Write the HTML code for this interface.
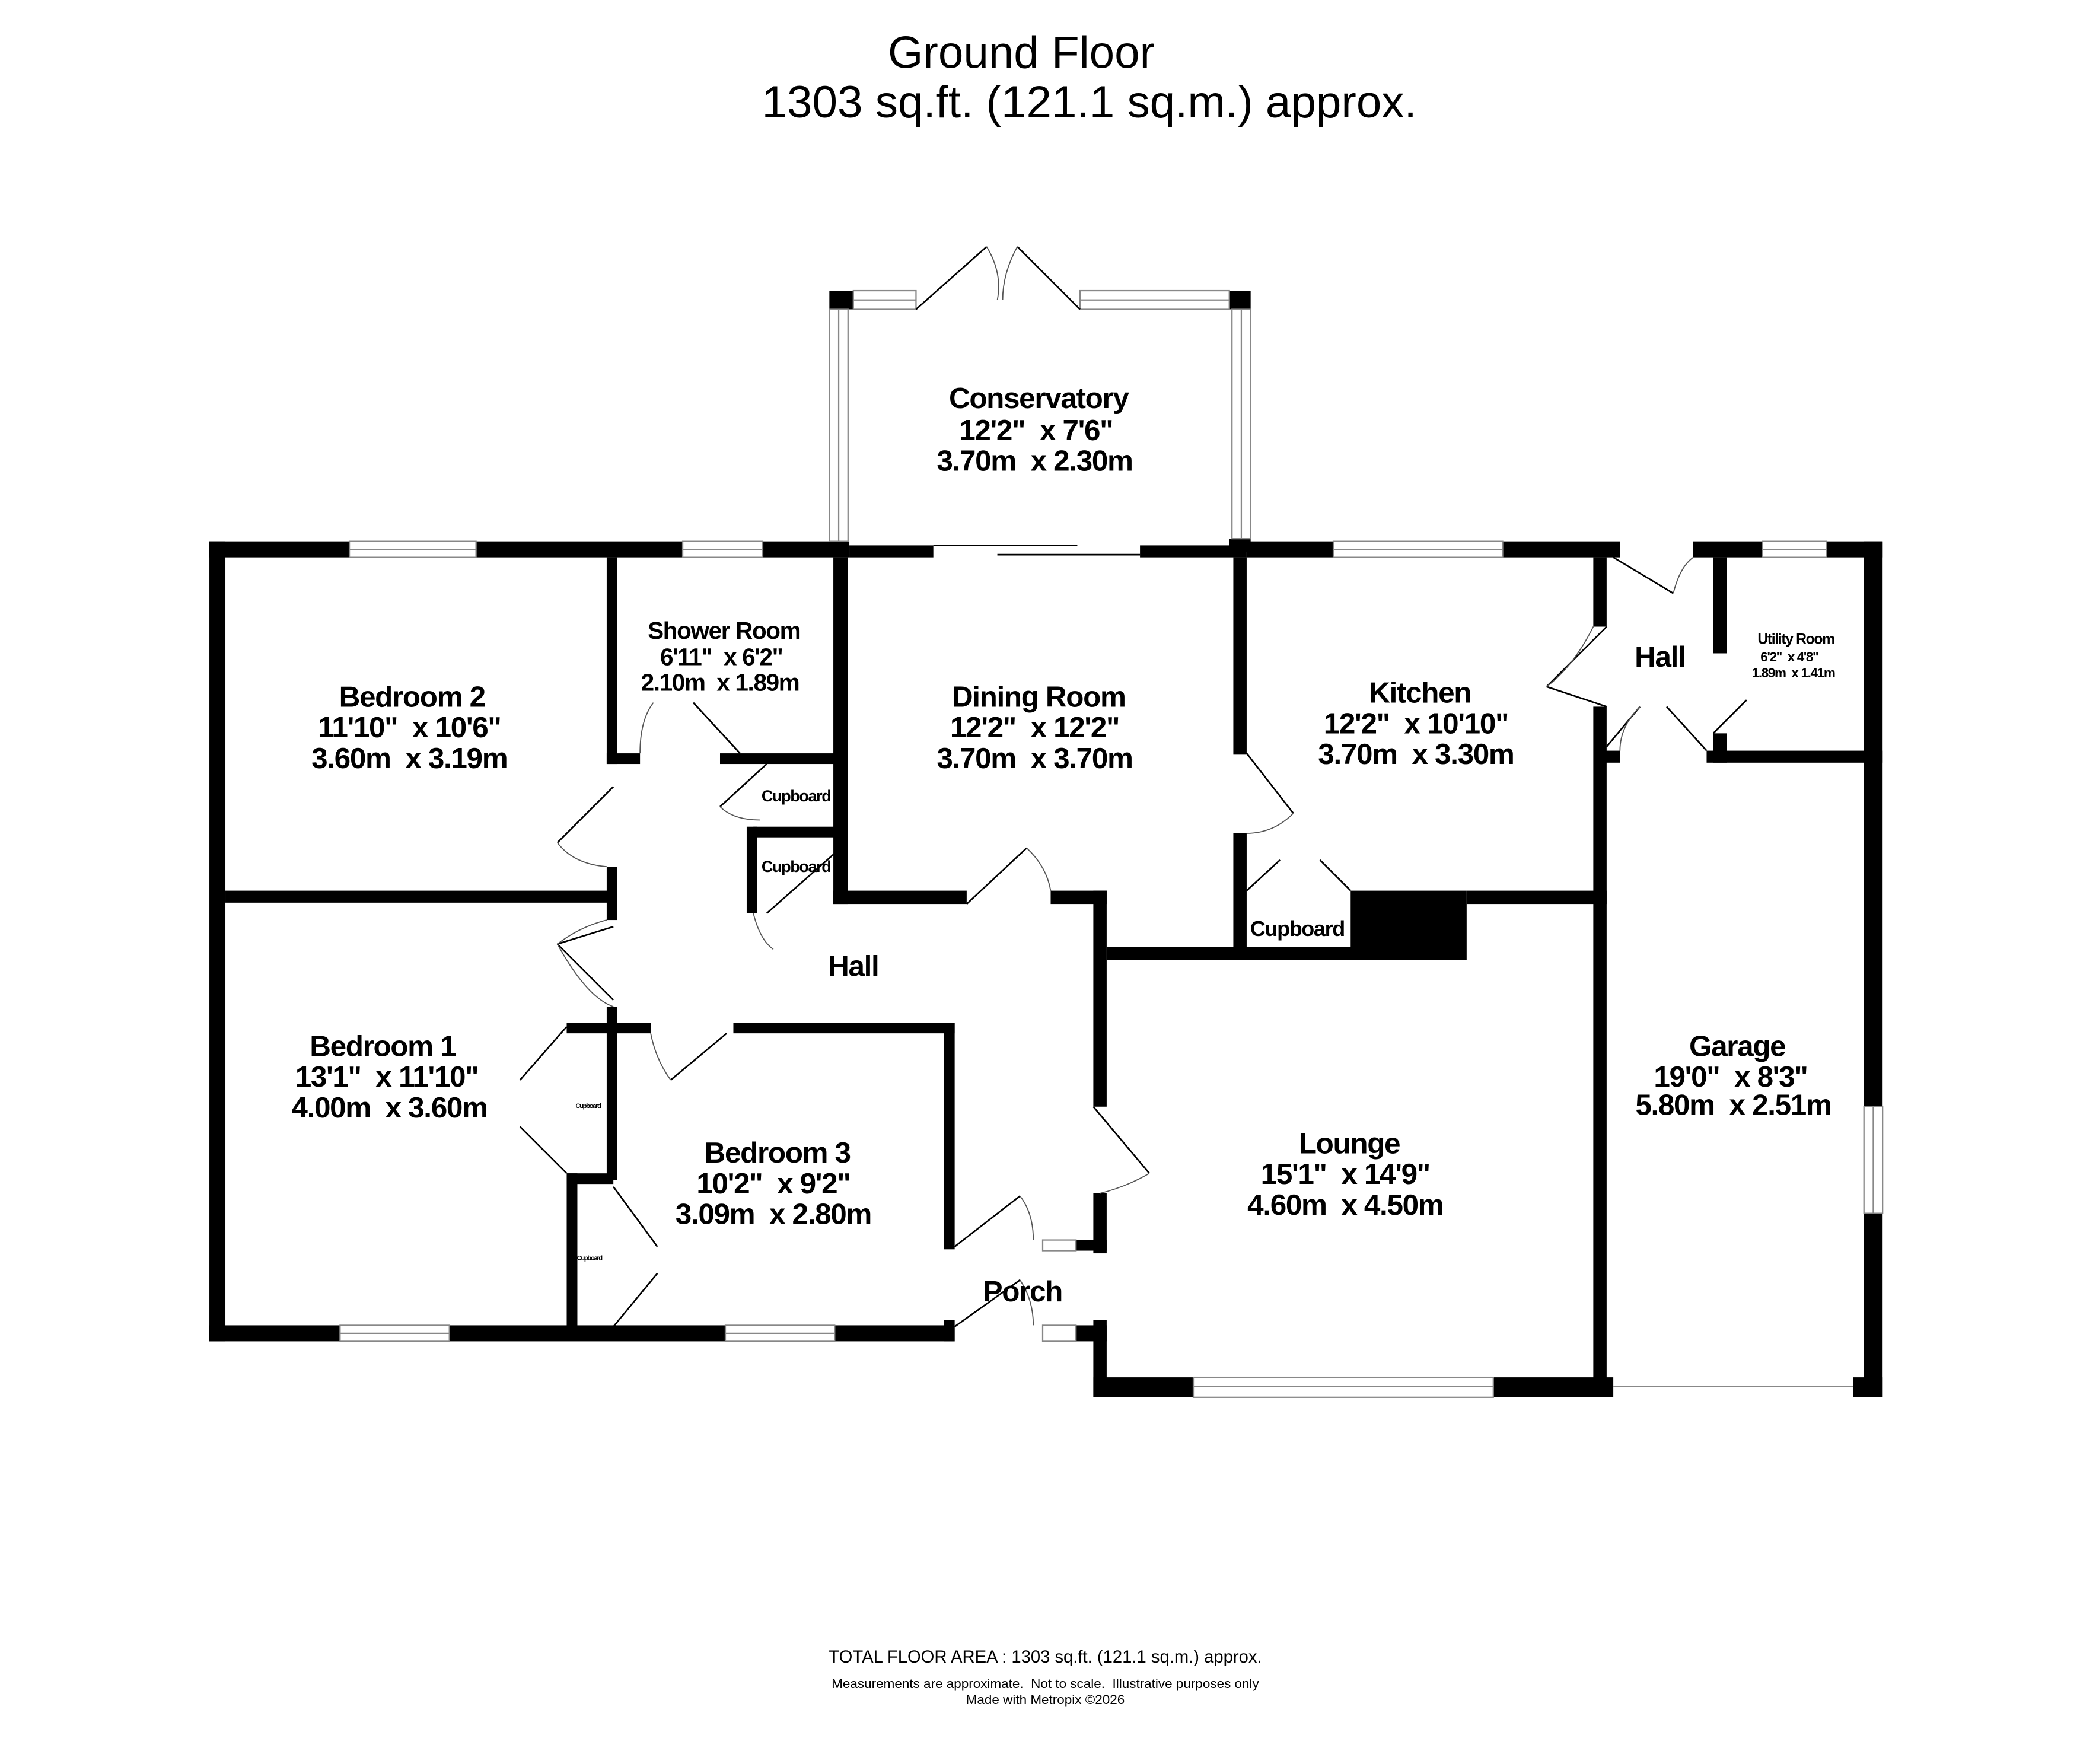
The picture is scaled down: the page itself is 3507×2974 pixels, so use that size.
<!DOCTYPE html>
<html><head><meta charset="utf-8"><style>
html,body{margin:0;padding:0;background:#fff;}
svg{display:block;}
text{font-family:"Liberation Sans",sans-serif;font-weight:bold;fill:#000;white-space:pre;letter-spacing:-0.6px;}
.t{font-family:"Liberation Sans",sans-serif;font-weight:normal;letter-spacing:0;}
.d{fill:none;stroke:#000;stroke-width:1.2;}
.a{fill:none;stroke:#555;stroke-width:0.8;}
.w{fill:#fff;stroke:#888;stroke-width:1;}
</style></head><body>
<svg width="3507" height="2974" viewBox="0 0 1560 1323" xmlns="http://www.w3.org/2000/svg" xml:space="preserve">
<rect width="1560" height="1323" fill="#fff"/>
<text class="t" x="766" y="51" font-size="34" text-anchor="middle">Ground Floor</text>
<text class="t" x="817" y="88" font-size="34" text-anchor="middle">1303 sq.ft. (121.1 sq.m.) approx.</text>

<g fill="#000">
<rect x="157" y="406" width="105" height="12"/>
<rect x="357" y="406" width="155" height="12"/>
<rect x="572" y="406" width="65" height="12"/>
<rect x="637" y="409" width="63" height="9"/>
<rect x="855" y="409" width="80" height="9"/>
<rect x="935" y="406" width="65" height="12"/>
<rect x="1127" y="406" width="88" height="12"/>
<rect x="1270" y="406" width="52" height="12"/>
<rect x="1370" y="406" width="42" height="12"/>
<rect x="157" y="406" width="12" height="600"/>
<rect x="157" y="994" width="98" height="12"/>
<rect x="337" y="994" width="207" height="12"/>
<rect x="626" y="994" width="90" height="12"/>
<rect x="169" y="668" width="291" height="9"/>
<rect x="455" y="418" width="8" height="155"/>
<rect x="455" y="565" width="25" height="8"/>
<rect x="540" y="565" width="95" height="8"/>
<rect x="455" y="650" width="8" height="40"/>
<rect x="455" y="755" width="8" height="130"/>
<rect x="425" y="767" width="63" height="8"/>
<rect x="550" y="767" width="166" height="8"/>
<rect x="708" y="767" width="8" height="170"/>
<rect x="708" y="990" width="8" height="16"/>
<rect x="425" y="880" width="35" height="8"/>
<rect x="425" y="880" width="8" height="120"/>
<rect x="625" y="418" width="11" height="260"/>
<rect x="565" y="620" width="65" height="8"/>
<rect x="560" y="620" width="8" height="65"/>
<rect x="625" y="668" width="100" height="10"/>
<rect x="788" y="668" width="42" height="10"/>
<rect x="820" y="668" width="10" height="162"/>
<rect x="820" y="895" width="10" height="45"/>
<rect x="820" y="990" width="10" height="58"/>
<rect x="782" y="930" width="48" height="8"/>
<rect x="782" y="994" width="48" height="12"/>
<rect x="830" y="710" width="185" height="10"/>
<rect x="925" y="418" width="10" height="148"/>
<rect x="925" y="625" width="10" height="95"/>
<rect x="1013" y="668" width="87" height="52"/>
<rect x="1100" y="668" width="105" height="10"/>
<rect x="1195" y="418" width="10" height="52"/>
<rect x="1195" y="530" width="10" height="518"/>
<rect x="1200" y="563" width="15" height="9"/>
<rect x="1285" y="418" width="10" height="72"/>
<rect x="1285" y="550" width="10" height="22"/>
<rect x="1280" y="563" width="132" height="9"/>
<rect x="1398" y="406" width="14" height="424"/>
<rect x="1398" y="910" width="14" height="138"/>
<rect x="820" y="1033" width="75" height="15"/>
<rect x="1120" y="1033" width="90" height="15"/>
<rect x="1390" y="1033" width="22" height="15"/>
<rect x="622" y="218" width="18" height="14"/>
<rect x="922" y="218" width="16" height="14"/>
<rect x="622" y="406" width="14" height="8"/>
<rect x="922" y="404" width="16" height="10"/>
</g>

<g class="w">
<rect x="262" y="406" width="95" height="12"/>
<rect x="512" y="406" width="60" height="12"/>
<rect x="1000" y="406" width="127" height="12"/>
<rect x="1322" y="406" width="48" height="12"/>
<rect x="255" y="994" width="82" height="12"/>
<rect x="544" y="994" width="82" height="12"/>
<rect x="895" y="1033" width="225" height="15"/>
<rect x="1398" y="830" width="14" height="80"/>
<rect x="782" y="930" width="25" height="8"/>
<rect x="782" y="994" width="25" height="12"/>
<rect x="640" y="218" width="47" height="14"/>
<rect x="810" y="218" width="112" height="14"/>
<rect x="622" y="232" width="14" height="174"/>
<rect x="924" y="232" width="14" height="172"/>
</g>
<g stroke="#888" stroke-width="1">
<line x1="262" y1="412" x2="357" y2="412"/><line x1="512" y1="412" x2="572" y2="412"/>
<line x1="1000" y1="412" x2="1127" y2="412"/><line x1="1322" y1="412" x2="1370" y2="412"/>
<line x1="255" y1="1000" x2="337" y2="1000"/><line x1="544" y1="1000" x2="626" y2="1000"/>
<line x1="895" y1="1040" x2="1120" y2="1040"/><line x1="1405" y1="830" x2="1405" y2="910"/>
<line x1="640" y1="225" x2="687" y2="225"/><line x1="810" y1="225" x2="922" y2="225"/>
<line x1="629" y1="232" x2="629" y2="406"/><line x1="931" y1="232" x2="931" y2="404"/>
<line x1="1210" y1="1040" x2="1390" y2="1040"/>
</g>
<g class="d"><line x1="700" y1="409" x2="808" y2="409"/><line x1="748" y1="416" x2="855" y2="416"/></g>
<g class="d">
<path d="M687 232 L740 185"/><path d="M810 232 L763 185"/>
<path d="M520 527 L555 565"/><path d="M575 573 L540 605"/><path d="M575 685 L626 640"/>
<path d="M460 590 L418 632"/><path d="M460 695 L418 708"/><path d="M418 708 L460 750"/>
<path d="M545 775 L503 810"/><path d="M725 678 L770 636"/>
<path d="M820 830 L862 880"/><path d="M716 935 L765 897"/><path d="M716 995 L765 960"/>
<path d="M935 565 L970 610"/><path d="M1205 470 L1160 515"/><path d="M1205 530 L1160 515"/>
<path d="M1210 418 L1255 445"/><path d="M1205 560 L1230 530"/><path d="M1280 563 L1250 530"/>
<path d="M1285 550 L1310 525"/>
<path d="M425 770 L390 810"/><path d="M425 880 L390 845"/>
<path d="M460 890 L493 935"/><path d="M460 995 L493 955"/>
<path d="M935 668 L960 645"/><path d="M1013 668 L990 645"/>
</g>
<g class="a">
<path d="M740 185 Q752 205 748 225"/><path d="M763 185 Q752 205 752 225"/>
<path d="M480 565 Q480 540 490 527"/><path d="M540 605 Q550 615 570 615"/>
<path d="M565 685 Q570 705 580 712"/><path d="M418 632 Q430 648 455 650"/>
<path d="M418 708 Q435 695 455 690"/><path d="M460 755 Q440 748 418 708"/>
<path d="M488 775 Q492 795 503 810"/><path d="M770 636 Q785 650 788 668"/>
<path d="M862 880 Q845 890 825 895"/><path d="M765 897 Q775 910 775 930"/><path d="M765 960 Q775 975 775 994"/>
<path d="M970 610 Q955 625 935 625"/><path d="M1160 515 Q1180 500 1195 470"/>
<path d="M1255 445 Q1260 425 1270 418"/><path d="M1230 530 Q1215 545 1215 563"/>
</g>

<g text-anchor="middle">
<text x="779" y="306" font-size="22">Conservatory</text>
<text x="777" y="330" font-size="22">12'2"  x 7'6"</text>
<text x="776" y="353" font-size="22">3.70m  x 2.30m</text>
<text x="309" y="530" font-size="22">Bedroom 2</text>
<text x="307" y="553" font-size="22">11'10"  x 10'6"</text>
<text x="307" y="576" font-size="22">3.60m  x 3.19m</text>
<text x="543" y="479" font-size="18">Shower Room</text>
<text x="541" y="499" font-size="18">6'11"  x 6'2"</text>
<text x="540" y="518" font-size="18">2.10m  x 1.89m</text>
<text x="779" y="530" font-size="22">Dining Room</text>
<text x="776" y="553" font-size="22">12'2"  x 12'2"</text>
<text x="776" y="576" font-size="22">3.70m  x 3.70m</text>
<text x="1065" y="527" font-size="22">Kitchen</text>
<text x="1062" y="550" font-size="22">12'2"  x 10'10"</text>
<text x="1062" y="573" font-size="22">3.70m  x 3.30m</text>
<text x="1245" y="500" font-size="22">Hall</text>
<text x="1347" y="483" font-size="11">Utility Room</text>
<text x="1342" y="496" font-size="10">6'2"  x 4'8"</text>
<text x="1345" y="508" font-size="10">1.89m  x 1.41m</text>
<text x="597" y="601" font-size="12">Cupboard</text>
<text x="597" y="654" font-size="12">Cupboard</text>
<text x="973" y="702" font-size="16">Cupboard</text>
<text x="640" y="732" font-size="22">Hall</text>
<text x="287" y="792" font-size="22">Bedroom 1</text>
<text x="290" y="815" font-size="22">13'1"  x 11'10"</text>
<text x="292" y="838" font-size="22">4.00m  x 3.60m</text>
<text x="441" y="831" font-size="5">Cupboard</text>
<text x="442" y="945" font-size="5">Cupboard</text>
<text x="583" y="872" font-size="22">Bedroom 3</text>
<text x="580" y="895" font-size="22">10'2"  x 9'2"</text>
<text x="580" y="918" font-size="22">3.09m  x 2.80m</text>
<text x="767" y="976" font-size="22">Porch</text>
<text x="1012" y="865" font-size="22">Lounge</text>
<text x="1009" y="888" font-size="22">15'1"  x 14'9"</text>
<text x="1009" y="911" font-size="22">4.60m  x 4.50m</text>
<text x="1303" y="792" font-size="22">Garage</text>
<text x="1298" y="815" font-size="22">19'0"  x 8'3"</text>
<text x="1300" y="836" font-size="22">5.80m  x 2.51m</text>
<text class="t" x="784" y="1247" font-size="13">TOTAL FLOOR AREA : 1303 sq.ft. (121.1 sq.m.) approx.</text>
<text class="t" x="784" y="1266" font-size="10">Measurements are approximate.  Not to scale.  Illustrative purposes only</text>
<text class="t" x="784" y="1278" font-size="10">Made with Metropix ©2026</text>
</g>
</svg>
</body></html>
